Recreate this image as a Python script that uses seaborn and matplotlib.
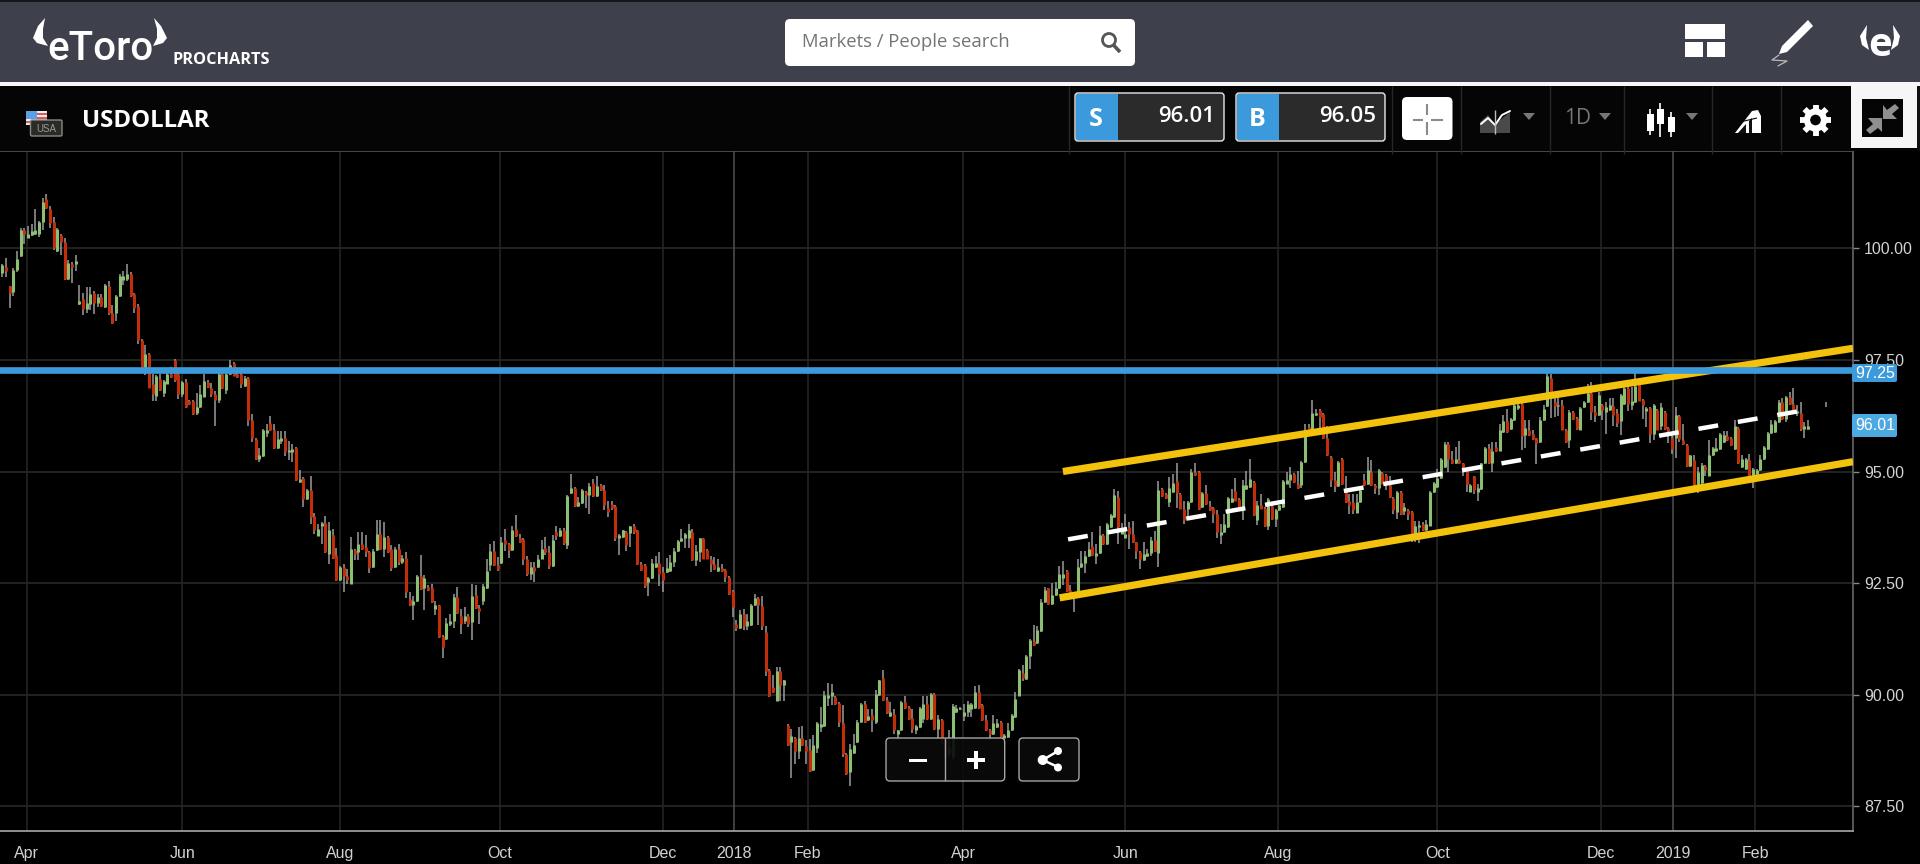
import numpy as np
import matplotlib
matplotlib.use("Agg")
import matplotlib.pyplot as plt
from matplotlib.patches import FancyBboxPatch, Rectangle, Polygon, Circle
import seaborn as sns

# Daily candles, prices in hundredths
opens = [
9945,9957,9916,9903,9952,9982,10042,10023,10029,10031,
10033,10060,10111,10087,10060,9995,10029,10014,9932,9965,
9964,9876,9887,9863,9876,9900,9877,9890,9868,9915,
9854,9855,9893,9930,9932,9942,9897,9870,9795,9730,
9764,9695,9670,9708,9676,9697,9719,9749,9719,9673,
9700,9659,9658,9630,9645,9668,9701,9687,9673,9661,
9719,9682,9718,9742,9718,9718,9691,9710,9615,9573,
9529,9534,9586,9609,9592,9553,9568,9576,9544,9544,
9553,9477,9486,9438,9458,9400,9356,9377,9385,9316,
9358,9312,9256,9286,9267,9249,9325,9320,9337,9331,
9320,9286,9325,9361,9327,9353,9327,9286,9326,9297,
9307,9215,9202,9210,9267,9240,9242,9239,9193,9200,
9131,9125,9159,9165,9219,9176,9166,9176,9163,9223,
9195,9211,9238,9290,9322,9291,9295,9346,9337,9325,
9372,9352,9348,9303,9270,9286,9285,9305,9329,9320,
9289,9365,9355,9368,9335,9452,9462,9422,9430,9454,
9447,9475,9445,9469,9458,9419,9428,9422,9352,9353,
9365,9362,9377,9368,9292,9290,9253,9262,9286,9295,
9275,9275,9277,9297,9322,9344,9352,9352,9365,9301,
9320,9350,9325,9305,9292,9277,9284,9280,9264,9232,
9159,9150,9180,9153,9157,9200,9217,9198,9140,9055,
9017,8987,9052,9021,8933,8894,8904,8875,8904,8885,
8877,8831,8881,8928,8929,8993,8996,8995,8981,8937,
8868,8827,8869,8893,8939,8979,8943,8954,8939,9000,
9038,8989,8952,8956,8911,8920,8984,8972,8948,8922,
8928,8946,8980,8946,9001,8924,8944,8898,8870,8860,
8961,8968,8952,8961,8969,8970,9005,8978,8944,8920,
8911,8928,8939,8902,8905,8920,8950,8998,9049,9036,
9086,9120,9116,9143,9208,9238,9204,9223,9238,9262,
9277,9234,9220,9226,9285,9295,9310,9333,9311,9318,
9357,9337,9376,9398,9443,9361,9352,9376,9361,9341,
9320,9302,9310,9318,9346,9317,9460,9449,9432,9454,
9478,9449,9417,9417,9432,9500,9500,9420,9452,9422,
9419,9404,9357,9365,9376,9432,9456,9439,9417,9460,
9465,9476,9391,9424,9419,9377,9422,9394,9413,9420,
9473,9482,9495,9473,9469,9521,9599,9596,9626,9637,
9628,9576,9532,9480,9467,9529,9463,9433,9432,9408,
9432,9480,9471,9500,9470,9464,9497,9492,9469,9441,
9409,9455,9411,9413,9409,9357,9375,9383,9368,9379,
9454,9465,9486,9510,9562,9529,9518,9526,9518,9503,
9454,9489,9454,9460,9518,9553,9518,9555,9547,9589,
9613,9596,9616,9642,9652,9581,9594,9583,9574,9566,
9615,9646,9710,9656,9646,9648,9594,9570,9633,9620,
9594,9645,9656,9676,9633,9626,9650,9633,9637,9646,
9630,9613,9652,9688,9650,9656,9697,9661,9635,9643,
9585,9638,9603,9633,9597,9576,9574,9624,9570,9559,
9512,9525,9469,9474,9513,9491,9536,9546,9551,9566,
9579,9576,9551,9597,9509,9506,9525,9491,9494,9503,
9527,9551,9587,9588,9611,9656,9618,9667,9652,9630,
9632,9595,9595]

closes = [
9962,9949,9900,9952,9977,10042,10033,10033,10038,10042,
10060,10104,10091,10057,10000,10044,10014,9932,9967,9958,
9972,9883,9863,9878,9897,9877,9890,9870,9917,9854,
9833,9893,9939,9939,9942,9893,9867,9795,9722,9764,
9688,9673,9715,9682,9703,9719,9712,9706,9673,9700,
9645,9652,9628,9645,9674,9703,9689,9674,9661,9719,
9686,9718,9738,9715,9712,9695,9710,9615,9576,9529,
9536,9594,9594,9592,9553,9573,9576,9544,9549,9551,
9480,9484,9438,9458,9398,9368,9372,9385,9320,9368,
9307,9256,9286,9265,9258,9327,9316,9337,9327,9320,
9284,9323,9361,9327,9353,9320,9284,9326,9297,9307,
9230,9200,9210,9267,9237,9261,9235,9207,9202,9129,
9107,9161,9166,9219,9183,9159,9176,9159,9221,9195,
9187,9243,9277,9322,9291,9282,9342,9337,9325,9370,
9355,9341,9303,9270,9285,9277,9303,9327,9320,9288,
9347,9355,9368,9340,9445,9462,9422,9432,9458,9447,
9467,9445,9468,9458,9424,9409,9419,9352,9357,9368,
9336,9377,9365,9292,9279,9243,9262,9295,9295,9270,
9256,9284,9297,9322,9344,9352,9361,9370,9301,9322,
9350,9305,9305,9292,9282,9286,9277,9264,9226,9197,
9150,9180,9153,9164,9202,9217,9200,9155,9053,8996,
9006,9053,9021,9032,8887,8907,8875,8904,8887,8875,
8829,8887,8937,8935,8999,9000,9006,8980,8939,8868,
8823,8879,8887,8939,8979,8939,8952,8944,9001,9032,
8989,8958,8961,8920,8920,8984,8971,8946,8924,8931,
8971,8980,8946,9001,8924,8946,8904,8860,8880,8975,
8970,8971,8961,8979,8980,9006,8970,8944,8920,8911,
8937,8937,8902,8909,8920,8954,8991,9056,9038,9086,
9122,9111,9144,9208,9234,9204,9223,9238,9271,9271,
9232,9228,9227,9285,9295,9310,9327,9312,9318,9357,
9337,9383,9403,9447,9376,9370,9361,9361,9342,9322,
9303,9316,9318,9346,9322,9458,9444,9441,9462,9475,
9452,9417,9392,9432,9500,9493,9415,9452,9428,9413,
9404,9365,9365,9383,9441,9441,9435,9415,9470,9469,
9484,9402,9424,9417,9377,9439,9394,9413,9424,9479,
9480,9495,9477,9463,9521,9592,9590,9631,9631,9622,
9574,9536,9482,9467,9521,9471,9432,9424,9413,9432,
9458,9469,9504,9469,9462,9503,9473,9479,9443,9413,
9455,9405,9420,9404,9357,9379,9380,9368,9382,9454,
9474,9486,9529,9561,9529,9518,9529,9518,9509,9473,
9469,9458,9462,9518,9553,9518,9547,9546,9594,9613,
9589,9618,9648,9648,9579,9598,9581,9572,9564,9615,
9641,9715,9675,9646,9650,9594,9566,9633,9618,9596,
9643,9656,9676,9633,9626,9671,9638,9644,9648,9626,
9609,9671,9688,9652,9658,9691,9659,9648,9642,9585,
9650,9594,9644,9596,9590,9550,9626,9573,9562,9512,
9536,9469,9499,9514,9504,9538,9553,9553,9585,9581,
9570,9559,9603,9518,9529,9529,9491,9506,9503,9529,
9555,9587,9606,9613,9656,9618,9667,9652,9637,9636,
9596,9603,9603]

highs = [
9965,9979,9916,9955,9995,10045,10046,10051,10055,10089,
10062,10113,10122,10094,10070,10046,10031,10024,9973,9970,
9986,9917,9900,9913,9913,9905,9898,9897,9919,9926,
9874,9895,9943,9949,9964,9947,9900,9875,9797,9783,
9766,9719,9717,9719,9705,9730,9735,9753,9721,9702,
9707,9661,9660,9675,9693,9719,9706,9698,9680,9721,
9721,9720,9750,9745,9720,9720,9713,9712,9628,9576,
9553,9596,9606,9624,9607,9590,9590,9590,9568,9562,
9555,9504,9488,9460,9489,9407,9383,9387,9401,9387,
9372,9329,9288,9293,9281,9353,9327,9364,9364,9357,
9322,9327,9391,9391,9387,9355,9335,9331,9338,9314,
9320,9230,9222,9269,9312,9269,9245,9249,9210,9202,
9133,9172,9181,9226,9242,9193,9196,9181,9247,9245,
9200,9249,9305,9338,9344,9308,9353,9372,9339,9377,
9402,9361,9350,9311,9297,9297,9312,9347,9353,9332,
9357,9379,9374,9374,9447,9494,9465,9443,9460,9456,
9474,9484,9489,9472,9469,9434,9435,9425,9360,9370,
9367,9379,9383,9370,9297,9292,9263,9303,9310,9320,
9286,9307,9314,9329,9346,9372,9363,9383,9371,9335,
9352,9352,9327,9310,9308,9305,9293,9282,9266,9234,
9168,9190,9193,9181,9204,9226,9219,9220,9154,9057,
9045,9062,9062,9034,8935,8924,8906,8928,8930,8898,
8900,8909,8939,8972,9008,9027,9025,8998,8984,8978,
8870,8890,8911,8944,8981,8987,8969,8969,9011,9034,
9055,8995,8984,8967,8922,8986,8996,8974,8967,8933,
8973,8996,8996,9003,9003,8954,8946,8900,8920,8980,
8978,8973,8980,8987,8982,9019,9021,8980,8955,8924,
8955,8946,8941,8911,8936,8956,9006,9058,9066,9088,
9124,9157,9153,9215,9241,9240,9250,9252,9288,9299,
9279,9245,9230,9305,9323,9322,9342,9365,9338,9377,
9359,9385,9405,9460,9456,9385,9404,9387,9389,9343,
9322,9341,9327,9353,9367,9479,9462,9451,9488,9495,
9520,9451,9433,9434,9505,9518,9502,9454,9469,9435,
9421,9413,9383,9405,9443,9460,9486,9441,9480,9501,
9529,9478,9434,9449,9421,9441,9428,9415,9426,9481,
9499,9510,9497,9501,9523,9606,9606,9660,9640,9639,
9630,9601,9534,9499,9523,9531,9491,9450,9450,9450,
9460,9495,9533,9525,9472,9505,9499,9495,9491,9443,
9457,9457,9430,9415,9411,9390,9390,9387,9392,9456,
9477,9506,9531,9566,9566,9547,9555,9568,9520,9505,
9471,9491,9473,9520,9555,9562,9566,9566,9607,9626,
9639,9620,9658,9667,9654,9615,9616,9592,9576,9622,
9648,9725,9718,9670,9670,9660,9596,9638,9635,9622,
9645,9658,9695,9700,9646,9678,9652,9655,9665,9665,
9641,9673,9700,9690,9689,9720,9699,9663,9644,9645,
9652,9640,9653,9635,9600,9589,9645,9626,9607,9561,
9538,9538,9510,9519,9515,9571,9555,9576,9587,9591,
9591,9578,9615,9599,9536,9531,9540,9508,9505,9536,
9557,9589,9615,9616,9660,9665,9669,9677,9686,9648,
9656,9611,9616]

lows = [
9936,9936,9866,9893,9947,9980,10010,10023,10027,10030,
10025,10040,10088,10046,9997,9992,9986,9930,9930,9923,
9950,9874,9850,9856,9861,9853,9868,9868,9866,9850,
9831,9837,9891,9917,9927,9891,9856,9786,9720,9717,
9686,9658,9659,9680,9668,9695,9710,9700,9663,9668,
9643,9650,9626,9626,9643,9666,9687,9667,9603,9653,
9684,9674,9716,9713,9710,9688,9689,9603,9566,9525,
9521,9532,9577,9590,9551,9551,9562,9535,9525,9521,
9478,9475,9420,9436,9383,9359,9356,9338,9318,9293,
9305,9254,9254,9230,9249,9247,9302,9302,9325,9308,
9272,9284,9323,9325,9308,9318,9278,9284,9290,9293,
9217,9198,9167,9208,9235,9189,9233,9205,9178,9127,
9083,9123,9154,9149,9181,9137,9159,9152,9122,9193,
9158,9200,9236,9278,9289,9278,9293,9323,9306,9323,
9353,9339,9290,9267,9258,9252,9283,9303,9312,9281,
9287,9346,9353,9335,9327,9450,9420,9420,9428,9419,
9404,9443,9443,9456,9414,9399,9413,9344,9312,9351,
9323,9331,9360,9290,9277,9240,9221,9260,9284,9243,
9230,9273,9275,9287,9320,9342,9329,9329,9299,9288,
9297,9303,9303,9275,9280,9275,9275,9252,9224,9175,
9142,9148,9145,9145,9155,9198,9157,9145,9041,8994,
9004,8985,8987,8987,8885,8814,8844,8857,8885,8845,
8827,8829,8869,8916,8927,8974,8978,8978,8928,8860,
8821,8795,8867,8891,8937,8937,8941,8917,8935,8998,
8987,8956,8950,8913,8901,8918,8969,8944,8914,8913,
8926,8937,8944,8944,8922,8900,8890,8855,8860,8855,
8959,8966,8941,8950,8950,8968,8968,8942,8918,8898,
8909,8926,8900,8890,8903,8918,8948,8996,9031,9034,
9058,9109,9114,9141,9206,9202,9202,9220,9236,9245,
9230,9226,9185,9219,9283,9273,9308,9310,9292,9316,
9335,9335,9374,9396,9337,9359,9350,9327,9340,9305,
9282,9300,9308,9310,9320,9285,9442,9439,9420,9452,
9419,9415,9383,9397,9430,9491,9413,9418,9426,9411,
9385,9352,9337,9363,9374,9430,9433,9413,9391,9458,
9463,9400,9381,9415,9375,9370,9392,9376,9411,9418,
9471,9462,9475,9461,9462,9519,9588,9594,9624,9596,
9572,9534,9465,9454,9465,9469,9430,9404,9404,9406,
9430,9467,9469,9467,9449,9447,9471,9458,9441,9405,
9394,9403,9402,9392,9342,9342,9340,9366,9366,9377,
9452,9463,9484,9508,9500,9516,9516,9516,9491,9454,
9454,9450,9434,9458,9516,9516,9499,9544,9545,9587,
9587,9594,9614,9637,9549,9552,9579,9570,9517,9564,
9613,9644,9620,9622,9625,9592,9564,9553,9616,9594,
9592,9643,9654,9616,9611,9624,9616,9583,9635,9602,
9599,9581,9650,9636,9637,9654,9657,9618,9600,9564,
9571,9592,9594,9594,9564,9540,9530,9566,9560,9510,
9510,9467,9452,9472,9491,9489,9534,9544,9549,9564,
9568,9557,9549,9516,9507,9504,9489,9463,9492,9501,
9525,9549,9585,9586,9609,9616,9611,9650,9635,9625,
9590,9576,9592]

x_tick_pos = [6.7, 49, 92, 135.6, 180, 199.4, 219.5, 261.8, 306, 347.7, 391, 435.6, 455.2, 477.7]
x_tick_labels = ["Apr", "Jun", "Aug", "Oct", "Dec", "2018", "Feb", "Apr", "Jun", "Aug", "Oct", "Dec", "2019", "Feb"]
year_ticks = [199.4, 455.2]
y_ticks = [87.5, 90, 92.5, 95, 97.5, 100]
support_level = 97.27
upper_x, upper_y = [289, 504.3], [95.0, 97.76]
lower_x, lower_y = [288.1, 504.3], [92.17, 95.22]
mid_x, mid_y = [290.4, 490.9], [93.48, 96.37]

W, H = 1920, 864
GREEN, RED, WICK = "#8cbf73", "#c22e0a", "#9c9c9c"
BLUE, LBLUE, YEL = "#3a9adb", "#4da9e2", "#f2c20c"
sns.set_theme(style="dark", rc={"axes.facecolor": "black", "figure.facecolor": "black",
                                "axes.grid": False, "savefig.facecolor": "black"})
plt.rcParams["font.family"] = ["Liberation Sans", "DejaVu Sans"]

fig = plt.figure(figsize=(W / 100, H / 100), dpi=100)
ax = fig.add_axes([0, (H - 831) / H, 1853 / W, 680 / H], zorder=1)

n = min(len(opens), len(closes), len(highs), len(lows))
o, c, h, l = [np.array(a[:n]) / 100 for a in (opens, closes, highs, lows)]
idx = np.arange(n)
up = c >= o

for v in y_ticks:
    ax.axhline(v, color="#2c2c2c", lw=1.1, zorder=1)
for t in x_tick_pos:
    ax.axvline(t, color="#4a4a4a" if t in year_ticks else "#242424", lw=1.2, zorder=1)

ax.vlines(idx, l, h, color=WICK, lw=1.1, capstyle="butt", zorder=2)
ax.vlines(idx[up], o[up], c[up], color=GREEN, lw=2.2, capstyle="butt", zorder=3)
ax.vlines(idx[~up], c[~up], o[~up], color=RED, lw=2.2, capstyle="butt", zorder=3)
ax.vlines([496.8], [96.45], [96.55], color=WICK, lw=1.1, capstyle="butt", zorder=2)

sns.lineplot(x=upper_x, y=upper_y, ax=ax, color=YEL, lw=5.2, solid_capstyle="butt", zorder=5)
sns.lineplot(x=lower_x, y=lower_y, ax=ax, color=YEL, lw=5.2, solid_capstyle="butt", zorder=5)
sns.lineplot(x=mid_x, y=mid_y, ax=ax, color="white", lw=3.2, zorder=6,
             linestyle=(0, (4.5, 4.5)), dash_capstyle="butt")
ax.axhline(support_level, color=BLUE, lw=4.8, zorder=7)

ax.set_xlim((0 - 2.3) / 3.67, (1853 - 2.3) / 3.67)
ax.set_ylim(100 - (831 - 248.3) / 44.64, 100 - (151 - 248.3) / 44.64)
ax.yaxis.tick_right()
ax.set_yticks(y_ticks, [f"{v:.2f}" for v in y_ticks])
ax.set_xticks(x_tick_pos, x_tick_labels)
ax.tick_params(axis="both", colors="#d2d2d2", labelsize=11.5, length=4, width=1, pad=4, direction="out")
ax.tick_params(axis="x", pad=7, color="#888888")
ax.tick_params(axis="y", pad=4, color="#888888")
for name, col in (("top", "#555555"), ("bottom", "#a8a8a8"), ("right", "#666666")):
    ax.spines[name].set_visible(True)
    ax.spines[name].set_color(col)
    ax.spines[name].set_linewidth(1.2)
ax.spines["left"].set_visible(False)

# Screen furniture, in pixel coordinates
ui = fig.add_axes([0, 0, 1, 1], zorder=5, facecolor="none")
ui.set_xlim(0, W)
ui.set_ylim(H, 0)
ui.axis("off")


def rect(x0, y0, x1, y1, fc, **kw):
    ui.add_patch(Rectangle((x0, y0), x1 - x0, y1 - y0, fc=fc, ec="none", **kw))


def rbox(x0, y0, x1, y1, fc, ec="none", r=4, lw=1.0, **kw):
    ui.add_patch(FancyBboxPatch((x0 + r, y0 + r), x1 - x0 - 2 * r, y1 - y0 - 2 * r,
                                boxstyle=f"round,pad={r},rounding_size={r}", fc=fc, ec=ec, lw=lw, **kw))


def poly(pts, fc, **kw):
    ui.add_patch(Polygon(pts, closed=True, fc=fc, ec="none", **kw))


def seg(xs, ys, col, lw=1.0, **kw):
    ui.plot(xs, ys, color=col, lw=lw, solid_capstyle="butt", **kw)


def label(x, y, s, **kw):
    ui.text(x, y, s, va=kw.pop("va", "center"), ha=kw.pop("ha", "center"), **kw)


# Top bar
rect(0, 0, W, 82, "#3e404c")
rect(0, 0, W, 1.5, "#15151a")
rect(0, 82, W, 86, "#f7f7f7")
rect(0, 86, W, 150.5, "#050505")
poly([(45, 18), (38, 26), (33, 38), (37, 43), (48, 46), (43, 38), (43, 29)], "white")
poly([(154, 18), (161, 26), (167, 38), (163, 43), (153, 46), (157, 38), (157, 29)], "white")
label(100, 60.5, "eToro", color="white", fontsize=29, va="baseline", family=["Roboto"], fontweight="medium")
label(172, 64, "PROCHARTS", color="white", fontsize=11.7, ha="left", va="baseline",
      family=["Open Sans"], fontweight="bold")
rbox(785, 19, 1135, 66, "white", r=5)
label(802, 42, "Markets / People search", color="#757575", fontsize=13.3, ha="left", family=["Open Sans"])
ui.add_patch(Circle((1109, 40), 6.5, fc="none", ec="#555555", lw=2.0))
seg([1113.5, 1120], [45, 52], "#555555", 2.6)
rect(1685, 24, 1725, 38.5, "white")
rect(1685, 42, 1703, 57, "white")
rect(1707, 42, 1725, 57, "white")
poly([(1808, 20), (1813, 26), (1787, 52), (1779, 54), (1782, 46)], "white")
ui.plot([1779, 1772, 1787, 1778], [55, 60, 61, 66], color="#bbbbbb", lw=0.9)
poly([(1867, 25), (1860, 36), (1862, 45), (1869, 50), (1866, 38)], "white")
poly([(1893, 25), (1900, 36), (1898, 45), (1891, 50), (1894, 38)], "white")
label(1880, 45, "e", color="white", fontsize=29, fontweight="bold", family=["Open Sans"])

# Toolbar
rect(26, 111, 47, 125, "#e9eef5")
for yy in (113, 117, 121):
    rect(26, yy, 47, yy + 2, "#e25555")
rect(26, 111, 37, 119, "#5aa0e8")
rbox(30.5, 120, 62, 136, "#2a2a28", ec="#8a8a85", r=1.5, lw=1)
label(46, 128.5, "USA", color="#9a9a95", fontsize=7)
label(82, 121, "USDOLLAR", color="white", fontsize=17.3, ha="left", family=["Open Sans"], fontweight="bold")
for xs in (1068.6, 1392, 1461, 1549.5, 1624, 1712, 1781):
    seg([xs, xs], [86, 154], "#262626", 1)
for x0, x1, xb, xr, sym, val in ((1075, 1224, 1117.5, 1215, "S", "96.01"), (1236, 1385, 1278.5, 1376, "B", "96.05")):
    rbox(x0, 93, x1, 141, "#2b2b2b", ec="none", r=3)
    rect(x0 + 1, 94, xb, 140, BLUE)
    rbox(x0, 93, x1, 141, "none", ec="#e8e8e8", r=3, lw=1.0)
    label((x0 + xb) / 2, 119, sym, color="white", fontsize=18, fontweight="bold", family=["Open Sans"])
    label(xr, 117, val, color="white", fontsize=16, ha="right", family=["Open Sans"], fontweight="semibold")
rbox(1402, 97, 1452.5, 140, "white", r=5)
seg([1427, 1427], [104, 115], "#8a8a8a", 1.5)
seg([1427, 1427], [122, 135], "#8a8a8a", 1.5)
seg([1413, 1423], [120, 120], "#8a8a8a", 1.5)
seg([1431, 1443], [120, 120], "#8a8a8a", 1.5)
poly([(1480, 133), (1480, 122), (1488, 115), (1495, 124), (1510, 112), (1510, 133)], "#4a4a4a")
ui.plot([1481, 1488, 1495, 1502, 1510], [124, 118, 125, 115, 111], color="white", lw=1.4)
seg([1494.5, 1494.5], [110, 134], "#bbbbbb", 1)
for xt, col in ((1529, "#777777"), (1605, "#777777"), (1692, "#777777")):
    poly([(xt - 6, 113), (xt + 6, 113), (xt, 120)], col)
label(1578, 119, "1D", color="#777777", fontsize=15, family=["Open Sans"])
for xc, y0, y1, b0, b1 in ((1650, 109, 135, 114, 131), (1660, 103, 137, 109, 124), (1671, 112, 137, 117, 132)):
    seg([xc, xc], [y0, y1], "white", 1.2)
    rect(xc - 3.5, b0, xc + 3.5, b1, "white")
poly([(1735, 133), (1752, 111), (1758, 110), (1761, 116), (1761, 133)], "white")
poly([(1738, 133), (1746, 124), (1746, 133)], "#111111")
poly([(1749, 133), (1749, 121), (1752, 118), (1752, 133)], "#111111")
seg([1740, 1757], [122, 118], "#050505", 0.8)
for a in np.arange(0, 360, 45):
    ca, sa = np.cos(np.radians(a)), np.sin(np.radians(a))
    seg([1815.5 + 9 * ca, 1815.5 + 15.5 * ca], [120 + 9 * sa, 120 + 15.5 * sa], "white", 4.2)
ui.add_patch(Circle((1815.5, 120), 8.5, fc="#050505", ec="white", lw=4.5))
rect(1851, 86, 1917, 148, "#f6f6f6")
rect(1917, 86, W, 150, "#111111")
rect(1862, 99, 1903, 137, "#050505")
poly([(1895, 104), (1899, 108), (1892, 114), (1897, 119), (1883, 119), (1883, 105), (1887, 110)], "#8f8f8f")
poly([(1870, 134), (1866, 130), (1873, 124), (1868, 118), (1882, 118), (1882, 132), (1878, 128)], "#8f8f8f")

# Price tags
rbox(1852, 364, 1897, 382, BLUE, r=2)
label(1875, 373, "97.25", color="white", fontsize=11.5)
rbox(1852, 414, 1897, 437, LBLUE, r=2)
label(1875, 426, "96.01", color="white", fontsize=11.5)

# Zoom and share buttons
rbox(886, 738, 1004.7, 781, (0.04, 0.04, 0.04, 0.92), ec="#a5a5a5", r=4, lw=1.0)
seg([945, 945], [738, 781], "#a5a5a5", 1.0)
rect(908.5, 758.5, 926.5, 762, "white")
rect(967, 758, 985, 762, "white")
rect(974, 751, 978, 769, "white")
rbox(1019, 738, 1079, 781, (0.04, 0.04, 0.04, 0.92), ec="#a5a5a5", r=4, lw=1.0)
ui.plot([1058, 1042.7, 1058], [751, 760, 767], color="white", lw=1.8)
ui.add_patch(Circle((1042.7, 760), 5, fc="white", ec="none"))
ui.add_patch(Circle((1058, 751), 4, fc="white", ec="none"))
ui.add_patch(Circle((1058, 767.5), 4, fc="white", ec="none"))

fig.savefig("out.png", dpi=100)
